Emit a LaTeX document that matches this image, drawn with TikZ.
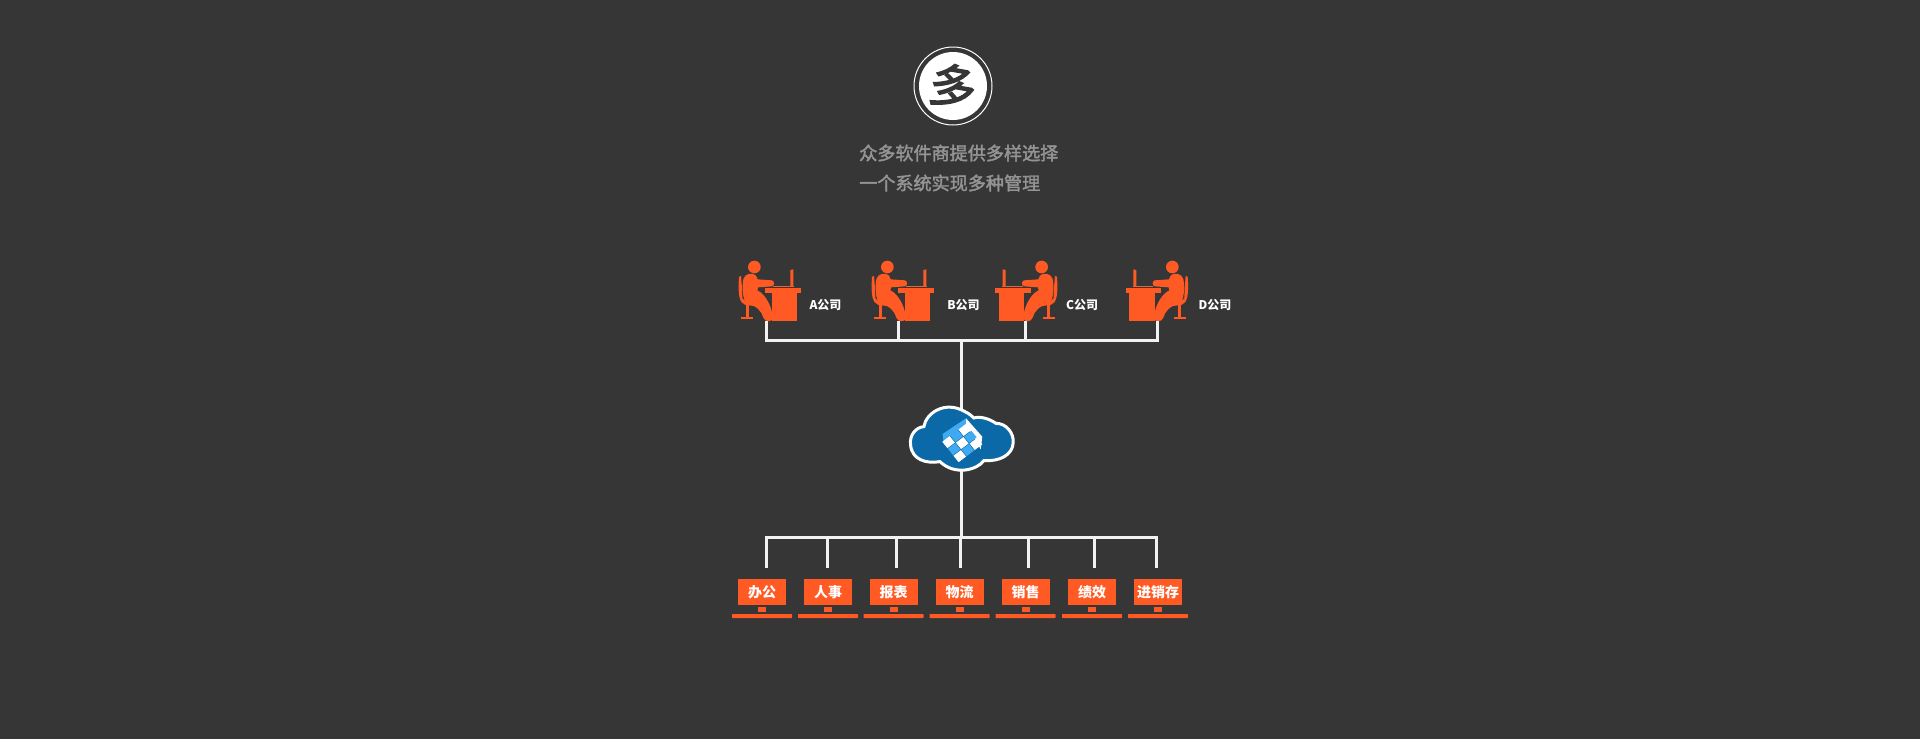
\documentclass[tikz,border=0pt]{standalone}
\usepackage{fontspec}
\newfontfamily\cjk{Noto Sans CJK SC}
\newfontfamily\cjkmid[FakeBold=2]{Noto Sans CJK SC}
\newfontfamily\cjkhalf[FakeBold=2.5]{Noto Sans CJK SC}
\usetikzlibrary{positioning}
\definecolor{bgdark}{HTML}{363636}
\definecolor{orangered}{HTML}{FF5A23}
\definecolor{cloudblue}{HTML}{0A69A6}
\definecolor{tileblue}{HTML}{3FAAF2}
\definecolor{captiongray}{HTML}{949494}
\begin{document}
\begin{tikzpicture}[x=1pt,y=-1pt,
  wire/.style={draw=white!95!black,line width=3pt},
  caption/.style={anchor=west,inner sep=0,text=captiongray,font=\cjkmid\fontsize{18.1}{18}\selectfont},
  company/.style={inner sep=0,text=white,font=\cjk\bfseries\fontsize{12}{12}\selectfont},
  screenbox/.style={rectangle,fill=orangered,minimum width=48pt,minimum height=26pt,inner sep=0,text=white,font=\cjk\bfseries\fontsize{14}{14}\selectfont},
  worker/.pic={
    \begin{scope}[x=.3333pt,y=-.3333pt,shift={(-155,-228)},fill=orangered]
      \fill (103,66) circle (19);
      % body, arm and leg
      \fill (70,102) .. controls (74,86) and (98,80) .. (108,92) -- (113,103) -- (156,106)
        .. controls (164,109) and (164,121) .. (156,124) -- (114,127) -- (112,136)
        .. controls (138,148) and (158,190) .. (158,220)
        .. controls (156,232) and (134,232) .. (130,218)
        .. controls (124,198) and (112,184) .. (82,176)
        .. controls (66,168) and (66,120) .. (70,102) -- cycle;
      % chair
      \fill (57,95) -- (63,93) -- (66,130) -- (67,160) -- (78,170) -- (108,178) -- (112,184) -- (76,180)
        .. controls (58,174) and (53,150) .. (57,95) -- cycle;
      \fill (77,178) rectangle (86,215);
      \fill (63,215) rectangle (99,223);
      % desk and screen
      \fill (136,128) rectangle (243,143);
      \fill (155,143) rectangle (232,228);
      \fill (211,75) -- (220,73) -- (220,125) -- (211,125) -- cycle;
      \fill (160,122) rectangle (222,127);
    \end{scope}
  }]
  \useasboundingbox (0,0) rectangle (1920,739);
  \fill[bgdark] (0,0) rectangle (1920,739);

  % badge
  \node [circle,draw=white,line width=1pt,minimum size=78pt,inner sep=0] (badge) at (953,86) {};
  \node [circle,fill=white,minimum size=68pt,inner sep=0] (badgedisc) at (953,86) {};
  \node [inner sep=0,text=bgdark,font=\cjkhalf\fontsize{47}{47}\selectfont,rotate=-10] (badgeglyph) at (953,86) {多};
  \node [caption] (captionA) at (859,153) {众多软件商提供多样选择};
  \node [caption] (captionB) at (859,183) {一个系统实现多种管理};

  % companies
  \foreach \name/\px/\sx/\lx/\flip/\txt in {A/771.7/766.7/825.5/1/A公司,B/904.7/898/963.5/1/B公司,C/1024.3/1025/1082/-1/C公司,D/1155/1157/1215/-1/D公司}
    {\pic [xscale=\flip] at (\px,321) {worker};
     \coordinate (seat\name) at (\sx,321);
     \coordinate (top\name) at (\sx,340);
     \node [company] (label\name) at (\lx,305) {\txt};
     \draw [wire] (seat\name) -- (top\name);}
  \draw [wire,line cap=rect] (topA) -- (topD);

  % cloud trunk
  \coordinate (trunkT) at (961.7,340);
  \coordinate (trunkB) at (961.7,537.7);
  \draw [wire] (trunkT) -- (trunkB);

  \begin{scope}[x=.3333pt,y=-.3333pt,shift={(2670,1170)}]
    \draw [fill=cloudblue,draw=white,line width=3pt]
      (62,165) .. controls (58,135) and (78,112) .. (102,110)
      .. controls (108,70) and (165,30) .. (225,65)
      .. controls (240,72) and (245,78) .. (252,84)
      .. controls (275,78) and (300,88) .. (318,100)
      .. controls (350,100) and (372,130) .. (370,158)
      .. controls (368,195) and (330,215) .. (282,212)
      .. controls (262,240) and (195,258) .. (150,215)
      .. controls (110,222) and (66,210) .. (62,165) -- cycle;
  \end{scope}

  % cube
  \fill [tileblue] (942.5,434) -- (966,418.3) -- (966,424) -- (943.5,441) -- cycle;
  \fill [white] (966,418.3) -- (982.3,436.7) -- (980.7,449.3) -- (966,424) -- cycle;
  \begin{scope}[shift={(941.7,441.7)},x={(8.1pt,6.1pt)},y={(5.6pt,-7pt)}]
    \foreach \i in {0,1,2}
      \foreach \j in {0,1,2}
        {\pgfmathtruncatemacro{\odd}{mod(\i+\j,2)}
         \ifnum\odd=0 \def\tilecol{white}\else\def\tilecol{tileblue}\fi
         \fill [\tilecol] (\i+.04,\j+.04) -- (\i+.96,\j+.04) -- (\i+.96,\j+.96) -- (\i+.04,\j+.96) -- cycle;}
  \end{scope}

  % departments
  \foreach \name/\cx/\dx/\txt in {ban/762/766.7/办公,ren/828/827.7/人事,bao/893.5/896.7/报表,wu/959.5/960.7/物流,xiao/1025.5/1028/销售,ji/1092/1094/绩效,jin/1158/1156.7/进销存}
    {\node [screenbox] (\name) at (\cx,592) {\txt};
     \fill [orangered] (\cx-4,607) rectangle (\cx+4,612);
     \fill [orangered,rounded corners=.6pt] (\cx-30,614) rectangle (\cx+30,618);
     \coordinate (bus\name) at (\dx,537.7);
     \coordinate (drop\name) at (\dx,568.3);
     \draw [wire] (bus\name) -- (drop\name);}
  \draw [wire,line cap=rect] (busban) -- (busjin);
\end{tikzpicture}
\end{document}
